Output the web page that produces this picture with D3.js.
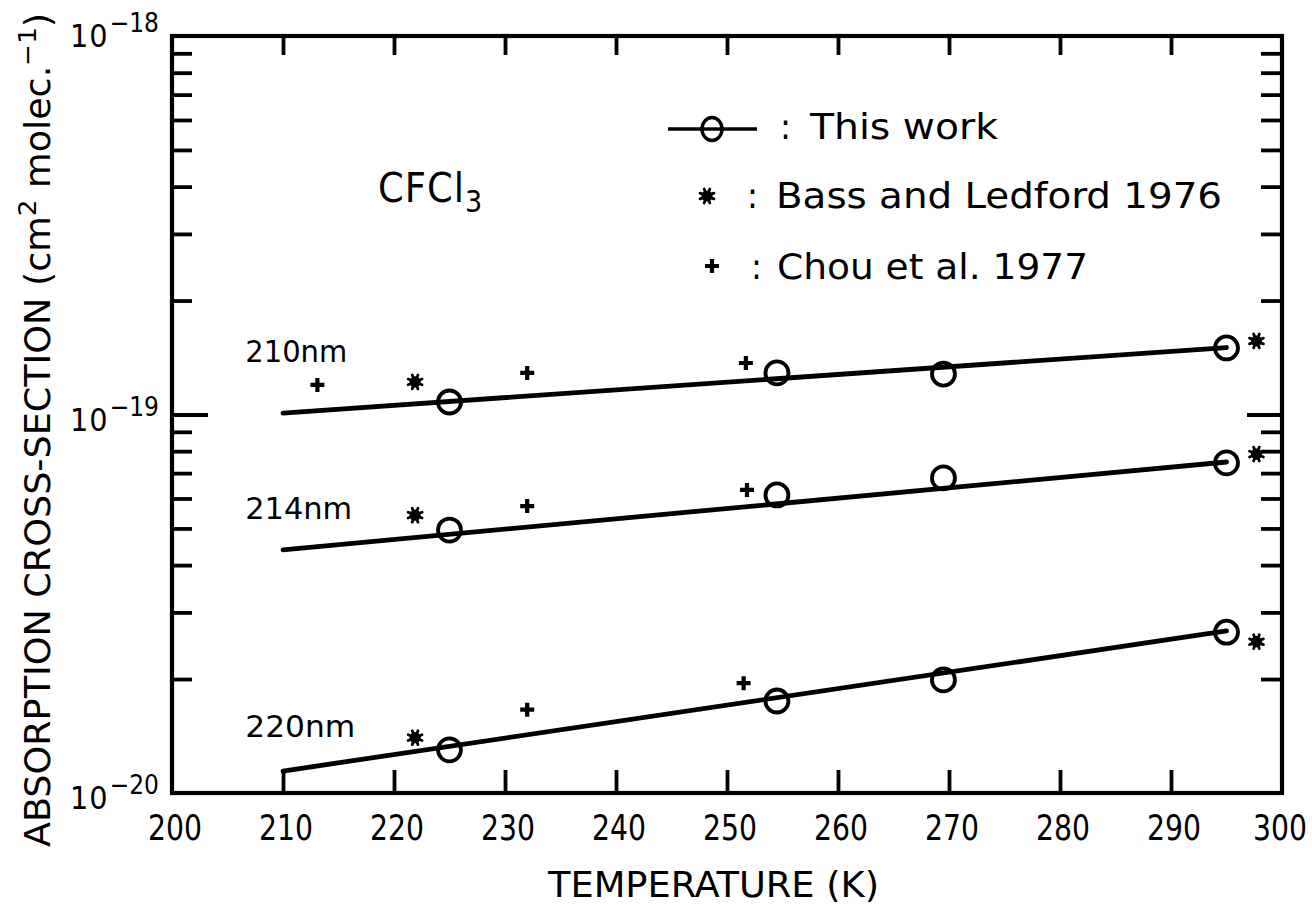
<!DOCTYPE html>
<html>
<head>
<meta charset="utf-8">
<script src="https://cdn.jsdelivr.net/npm/d3@7"></script>
<style>
  html, body { margin: 0; padding: 0; background: #fff; }
  svg { display: block; }
  text { font-family: "DejaVu Sans Condensed", "DejaVu Sans", sans-serif; fill: #000; }
</style>
</head>
<body>
<svg id="chart" width="1312" height="905"></svg>
<script>
// ---------------- DATA ----------------
const xTicks = [200, 210, 220, 230, 240, 250, 260, 270, 280, 290, 300];
const xTickLabels = ["200", "210", "220", "230", "240", "250", "260", "270", "280", "290", "300"];
const yMajor = [1e-20, 1e-19, 1e-18];
const yMajorExp = ["\u221220", "\u221219", "\u221218"];
const yMinor = [2e-20, 3e-20, 4e-20, 5e-20, 6e-20, 7e-20, 8e-20, 9e-20,
                2e-19, 3e-19, 4e-19, 5e-19, 6e-19, 7e-19, 8e-19, 9e-19];

const wavelengths = ["210nm", "214nm", "220nm"];

// This work (open circles)
const thisWorkT   = [225, 254.5, 269.5, 295];
const thisWork210 = [1.079e-19, 1.288e-19, 1.279e-19, 1.499e-19];
const thisWork214 = [4.95e-20, 6.13e-20, 6.80e-20, 7.45e-20];
const thisWork220 = [1.30e-20, 1.75e-20, 1.99e-20, 2.66e-20];

// Fitted lines (This work)
const fitT   = [210, 295];
const fit210 = [1.009e-19, 1.503e-19];
const fit214 = [4.39e-20, 7.49e-20];
const fit220 = [1.143e-20, 2.68e-20];

// Bass and Ledford 1976 (asterisks)
const bassT   = [221.9, 297.7];
const bass210 = [1.219e-19, 1.564e-19];
const bass214 = [5.42e-20, 7.86e-20];
const bass220 = [1.40e-20, 2.51e-20];

// Chou et al. 1977 (plus)
const chou210T = [213.1, 232.0, 251.7];
const chou210  = [1.197e-19, 1.288e-19, 1.368e-19];
const chou214T = [232.0, 251.8];
const chou214  = [5.73e-20, 6.32e-20];
const chou220T = [232.0, 251.5];
const chou220  = [1.66e-20, 1.95e-20];

// Wavelength label anchors (data space)
const labelT = 206.6;
const labelV = [1.377e-19, 5.30e-20, 1.41e-20];

const legendLabels = ["This work", "Bass and Ledford 1976", "Chou et al. 1977"];

// ---------------- LAYOUT ----------------
const svg = d3.select("#chart");
const L = 172, R = 1282, T = 36, B = 793;
const x = d3.scaleLinear().domain([200, 300]).range([L, R]);
const y = d3.scaleLog().domain([1e-20, 1e-18]).range([B, T]);

const tickW = 3.8;

function styleAxis(g) {
  g.select(".domain").remove();
  g.selectAll(".tick line").attr("stroke", "#000").attr("stroke-width", tickW);
  g.selectAll(".tick text").remove();
}
const inner = xTicks.slice(1, -1);
svg.append("g").attr("transform", `translate(0,${B})`)
  .call(d3.axisBottom(x).tickValues(inner).tickSize(-23).tickFormat(""))
  .call(styleAxis);
svg.append("g").attr("transform", `translate(0,${T})`)
  .call(d3.axisTop(x).tickValues(inner).tickSize(-19).tickFormat(""))
  .call(styleAxis);
svg.append("g").attr("transform", `translate(${L},0)`)
  .call(d3.axisLeft(y).tickValues(yMinor).tickSize(-20).tickFormat(""))
  .call(styleAxis);
svg.append("g").attr("transform", `translate(${L},0)`)
  .call(d3.axisLeft(y).tickValues([1e-19]).tickSize(-36).tickFormat(""))
  .call(styleAxis);
svg.append("g").attr("transform", `translate(${R},0)`)
  .call(d3.axisRight(y).tickValues(yMinor).tickSize(-21).tickFormat(""))
  .call(styleAxis);
svg.append("g").attr("transform", `translate(${R},0)`)
  .call(d3.axisRight(y).tickValues([1e-19]).tickSize(-35).tickFormat(""))
  .call(styleAxis);

// frame
svg.append("rect")
  .attr("x", x(200)).attr("y", y(1e-18))
  .attr("width", x(300) - x(200)).attr("height", y(1e-20) - y(1e-18))
  .attr("fill", "none").attr("stroke", "#000").attr("stroke-width", 4.2);

// x tick labels
svg.append("g").selectAll("text").data(xTicks).join("text")
  .attr("x", (d, i) => x(d) + (i === xTicks.length - 1 ? -2 : 3)).attr("y", 840)
  .attr("text-anchor", "middle").attr("font-size", 35)
  .attr("textLength", 54).attr("lengthAdjust", "spacingAndGlyphs")
  .text((d, i) => xTickLabels[i]);

// y tick labels 10^n
const yl = svg.append("g").selectAll("text").data(yMajor).join("text")
  .attr("x", 70).attr("y", d => y(d) + (d === 1e-18 ? 11 : 16))
  .attr("font-size", 32);
yl.append("tspan").text("10").attr("letter-spacing", 1);
yl.append("tspan").attr("dy", -15).attr("font-size", 26).attr("dx", 1)
  .text((d, i) => yMajorExp[i]);

// x title
svg.append("text").attr("x", 548).attr("y", 897).attr("font-size", 35)
  .attr("textLength", 331).attr("lengthAdjust", "spacingAndGlyphs")
  .text("TEMPERATURE (K)");

// y title
const yt = svg.append("text")
  .attr("transform", "translate(50,430) rotate(-90)")
  .attr("text-anchor", "middle").attr("font-size", 35)
  .attr("textLength", 834).attr("lengthAdjust", "spacingAndGlyphs");
yt.append("tspan").text("ABSORPTION CROSS-SECTION (cm");
yt.append("tspan").attr("dy", -14).attr("font-size", 25).text("2");
yt.append("tspan").attr("dy", 14).text(" molec.");
yt.append("tspan").attr("dy", -14).attr("font-size", 25).text("\u22121");
yt.append("tspan").attr("dy", 14).text(")");

// CFCl3
const cf = svg.append("text").attr("x", 378).attr("y", 202).attr("font-size", 41);
cf.append("tspan").text("CFCl").attr("letter-spacing", 1);
cf.append("tspan").attr("dy", 10).attr("font-size", 30).text("3");

// wavelength labels
const nmWidths = [102, 107, 110];
svg.append("g").selectAll("text").data(wavelengths).join("text")
  .attr("x", x(labelT)).attr("y", (d, i) => y(labelV[i]))
  .attr("font-size", 31)
  .attr("textLength", (d, i) => nmWidths[i]).attr("lengthAdjust", "spacingAndGlyphs")
  .text(d => d);

// ---------------- MARKS ----------------
const fits = [fit210, fit214, fit220];
const works = [thisWork210, thisWork214, thisWork220];
const bass = [bass210, bass214, bass220];
const chouTs = [chou210T, chou214T, chou220T];
const chous = [chou210, chou214, chou220];

const line = d3.line().x(d => x(d[0])).y(d => y(d[1]));
fits.forEach(f => {
  svg.append("path").datum(fitT.map((t, i) => [t, f[i]]))
    .attr("d", line).attr("fill", "none").attr("stroke", "#000")
    .attr("stroke-width", 4.8).attr("stroke-linecap", "round");
});

const plusType = { draw(ctx, size) { const r = Math.sqrt(size) / 2;
  ctx.moveTo(-r, 0); ctx.lineTo(r, 0); ctx.moveTo(0, -r); ctx.lineTo(0, r); } };
const starType = { draw(ctx, size) { const r = Math.sqrt(size) / 2;
  for (let k = 0; k < 4; k++) { const a = k * Math.PI / 4 + Math.PI / 8;
    ctx.moveTo(-r * Math.cos(a), -r * Math.sin(a)); ctx.lineTo(r * Math.cos(a), r * Math.sin(a)); } } };
const plusSym = d3.symbol().type(plusType).size(196);
const starSym = d3.symbol().type(starType).size(225);

works.forEach(w => {
  svg.append("g").selectAll("circle").data(thisWorkT.map((t, i) => [t, w[i]])).join("circle")
    .attr("cx", d => x(d[0])).attr("cy", d => y(d[1])).attr("r", 11.5)
    .attr("fill", "none").attr("stroke", "#000").attr("stroke-width", 3.8);
});
function drawStar(g) {
  g.append("circle").attr("r", 5.6).attr("fill", "#000");
  g.append("path").attr("d", starSym).attr("stroke", "#000").attr("stroke-width", 2.8)
    .attr("stroke-linecap", "round");
}
bass.forEach(b => {
  svg.append("g").selectAll("g").data(bassT.map((t, i) => [t, b[i]])).join("g")
    .attr("transform", d => `translate(${x(d[0])},${y(d[1])})`)
    .call(drawStar);
});
chous.forEach((c, k) => {
  svg.append("g").selectAll("path").data(chouTs[k].map((t, i) => [t, c[i]])).join("path")
    .attr("transform", d => `translate(${x(d[0])},${y(d[1])})`)
    .attr("d", plusSym).attr("stroke", "#000").attr("stroke-width", 4.2);
});

// ---------------- LEGEND ----------------
const lg = svg.append("g");
lg.append("line").attr("x1", 668).attr("x2", 757).attr("y1", 129).attr("y2", 129)
  .attr("stroke", "#000").attr("stroke-width", 3.4);
lg.append("ellipse").attr("cx", 712).attr("cy", 129).attr("rx", 10).attr("ry", 11.5)
  .attr("fill", "#fff").attr("stroke", "#000").attr("stroke-width", 3.4);
lg.append("line").attr("x1", 702).attr("x2", 722).attr("y1", 129).attr("y2", 129)
  .attr("stroke", "#000").attr("stroke-width", 3.4);
lg.append("g").attr("transform", "translate(707,196)").call(drawStar);
lg.append("path").attr("transform", "translate(712,266)").attr("d", plusSym)
  .attr("stroke", "#000").attr("stroke-width", 4.2);

const legendColonX = [780, 747, 751];
const legendTextX = [810, 776, 777];
const legendTextW = [188, 446, 311];
const legendBase = [139, 208, 279];
legendLabels.forEach((t, i) => {
  lg.append("text").attr("x", legendColonX[i]).attr("y", legendBase[i]).attr("font-size", 36).text(":");
  lg.append("text").attr("x", legendTextX[i]).attr("y", legendBase[i]).attr("font-size", 36)
    .attr("textLength", legendTextW[i]).attr("lengthAdjust", "spacingAndGlyphs").text(t);
});
</script>
</body>
</html>
